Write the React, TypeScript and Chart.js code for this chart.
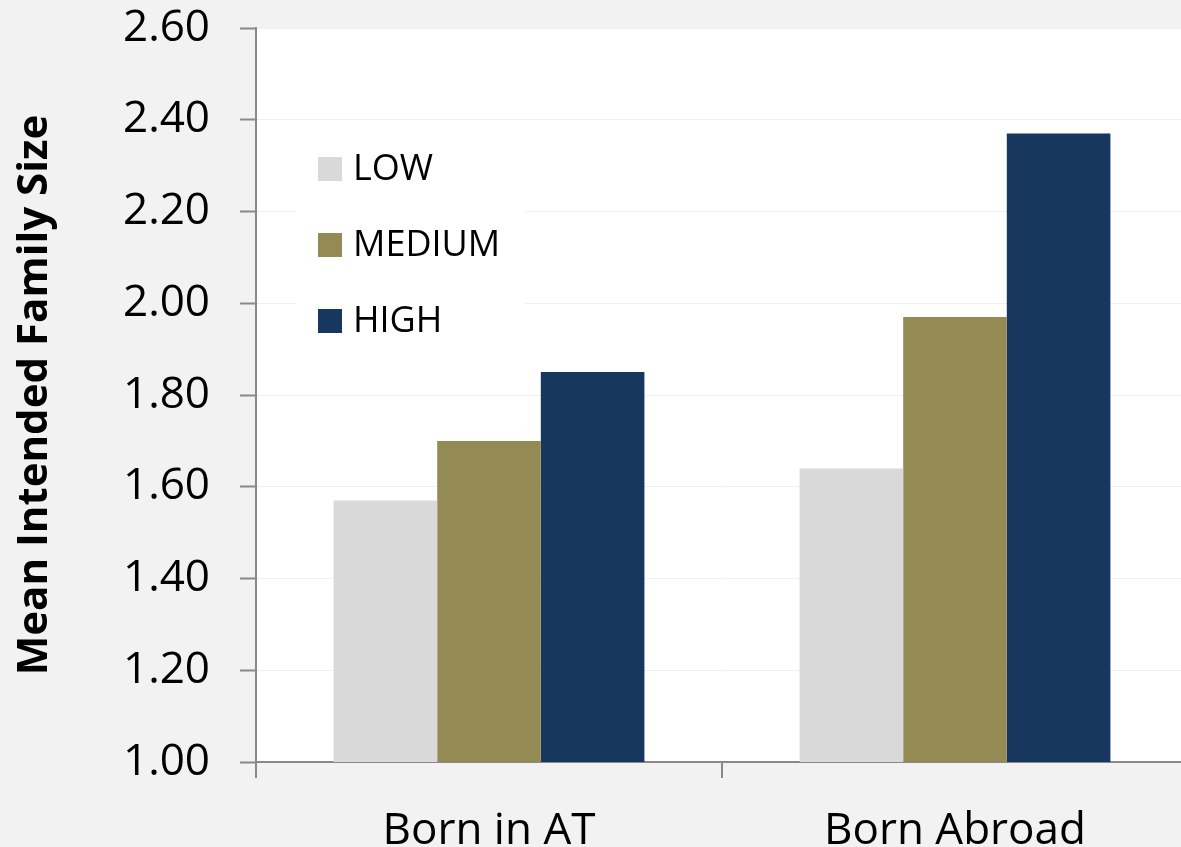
import React, { useEffect, useRef } from "react";
import { Chart, registerables } from "chart.js";

Chart.register(...registerables);

// Groups along the x axis
const categories = ["Born in AT", "Born Abroad"];

// Series (legend order) and their values per group
const seriesNames = ["LOW", "MEDIUM", "HIGH"];
const lowValues = [1.57, 1.64];
const mediumValues = [1.7, 1.97];
const highValues = [1.85, 2.37];
const seriesColors = ["#d9d9d9", "#948a54", "#17375e"];

// Value axis
const yMin = 1.0;
const yMax = 2.6;
const yStep = 0.2;
const yTitle = "Mean Intended Family Size";

const FONT = "'Open Sans', 'Noto Sans', sans-serif";
const AXIS_GRAY = "#898989";

// Paints the grey page and the white plot area
const backgroundPlugin = {
  id: "backgroundPlugin",
  beforeDraw(chart: any) {
    const { ctx, chartArea, width, height } = chart;
    ctx.save();
    ctx.fillStyle = "#f2f2f2";
    ctx.fillRect(0, 0, width, height);
    ctx.fillStyle = "#ffffff";
    ctx.fillRect(chartArea.left, chartArea.top, chartArea.right - chartArea.left, chartArea.bottom - chartArea.top);
    ctx.restore();
  },
};

// Vertical legend placed inside the plot area, upper left
const insideLegendPlugin = {
  id: "insideLegendPlugin",
  beforeDatasetsDraw(chart: any) {
    const { ctx, chartArea } = chart;
    const left = chartArea.left;
    const top = chartArea.top;
    ctx.save();
    ctx.fillStyle = "#ffffff";
    ctx.fillRect(left + 40, top + 100, 229, 220);
    ctx.font = `36px ${FONT}`;
    ctx.textBaseline = "middle";
    ctx.textAlign = "left";
    chart.data.datasets.forEach((ds: any, i: number) => {
      const cy = top + 141 + i * 76;
      ctx.fillStyle = ds.backgroundColor;
      ctx.fillRect(left + 62, cy - 12, 24, 24);
      ctx.fillStyle = "#000000";
      ctx.fillText(ds.label, left + 97, cy + 1);
    });
    ctx.restore();
  },
};

export default function App() {
  const canvasRef = useRef<HTMLCanvasElement | null>(null);

  useEffect(() => {
    if (!canvasRef.current) return;
    const seriesValues = [lowValues, mediumValues, highValues];
    const chart = new Chart(canvasRef.current, {
      type: "bar",
      data: {
        labels: categories,
        datasets: seriesNames.map((name, i) => ({
          label: name,
          data: seriesValues[i],
          backgroundColor: seriesColors[i],
          borderWidth: 0,
          categoryPercentage: 0.667,
          barPercentage: 1.0,
        })),
      },
      options: {
        responsive: false,
        animation: false,
        layout: { padding: { top: 28, right: 0, bottom: 0, left: 0 } },
        plugins: {
          legend: { display: false },
          tooltip: { enabled: false },
        },
        scales: {
          x: {
            offset: true,
            grid: {
              offset: true,
              drawOnChartArea: false,
              drawTicks: true,
              tickLength: 16,
              color: AXIS_GRAY,
              tickColor: AXIS_GRAY,
              lineWidth: 2,
              tickWidth: 2,
            },
            border: { display: true, color: AXIS_GRAY, width: 2 },
            ticks: {
              color: "#000000",
              font: { family: FONT, size: 44 },
              padding: 27,
              maxRotation: 0,
            },
            afterFit(scale: any) {
              scale.height = 85;
              scale.paddingLeft = 0;
              scale.paddingRight = 0;
            },
          },
          y: {
            min: yMin,
            max: yMax,
            grid: {
              color: "#f0f0f0",
              lineWidth: 1,
              drawTicks: true,
              tickLength: 16,
              tickColor: AXIS_GRAY,
              tickWidth: 2,
            },
            border: { display: true, color: AXIS_GRAY, width: 2 },
            ticks: {
              stepSize: yStep,
              color: "#000000",
              font: { family: FONT, size: 44 },
              padding: 30,
              callback: (v: any) => Number(v).toFixed(2),
            },
            title: {
              display: true,
              text: yTitle,
              color: "#000000",
              font: { family: FONT, size: 42, weight: "bold" },
              padding: { top: 10, bottom: 0 },
            },
            afterFit(scale: any) {
              scale.width = 256;
              scale.paddingTop = 0;
              scale.paddingBottom = 0;
            },
          },
        },
      },
      plugins: [backgroundPlugin, insideLegendPlugin],
    });

    if ((document as any).fonts && (document as any).fonts.load) {
      (document as any).fonts.load(`44px 'Open Sans'`).then(() => chart.update()).catch(() => {});
    }

    return () => chart.destroy();
  }, []);

  return (
    <div
      style={{
        position: "fixed",
        left: 0,
        top: 0,
        width: 1181,
        height: 847,
        overflow: "hidden",
        background: "#f2f2f2",
      }}
    >
      <canvas ref={canvasRef} width={1188} height={847} style={{ display: "block" }} />
    </div>
  );
}
